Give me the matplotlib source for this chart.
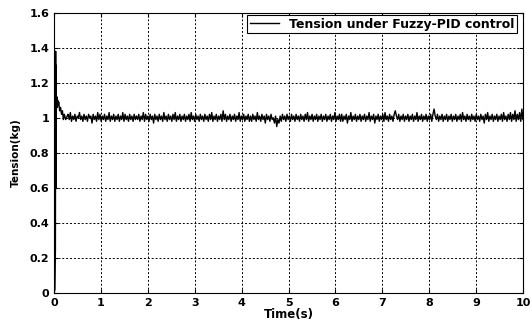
import numpy as np
import matplotlib
matplotlib.use('Agg')
import matplotlib.pyplot as plt
from matplotlib.ticker import FormatStrFormatter

plt.rcParams['font.family'] = ['DejaVu Sans']
plt.rcParams['font.weight'] = 'bold'

# Arranque (lectura aproximada de la figura)
t_start = [0.0, 0.02, 0.03, 0.035, 0.04, 0.045, 0.05, 0.06, 0.07, 0.08, 0.09, 0.10,
           0.12, 0.14, 0.16, 0.18, 0.20, 0.22, 0.25, 0.28]
y_start = [0.0, 0.02, 0.25, 1.38, 0.60, 1.30, 1.05, 1.12, 1.06, 1.10, 1.07, 1.09,
           1.04, 1.06, 1.02, 1.04, 0.99, 1.02, 0.99, 1.01]

# Régimen permanente, 0.3 s .. 10 s
y_steady = [
    1.02, 0.99, 1.03, 0.98, 1.01, 0.99, 1.02, 0.98, 1.01, 1.00, 1.03, 0.99, 1.01, 0.98, 1.02, 0.99, 1.01, 0.98, 1.02, 1.00,
    1.01, 0.97, 1.02, 0.99, 1.01, 0.98, 1.03, 0.99, 1.02, 0.98, 1.01, 0.99, 1.02, 0.98, 1.01, 0.99, 1.03, 0.98, 1.01, 0.99,
    1.02, 0.98, 1.01, 0.99, 1.02, 0.98, 1.01, 0.99, 1.03, 0.98, 1.02, 0.99, 1.01, 0.98, 1.02, 0.99, 1.01, 0.98, 1.02, 0.99,
    1.01, 0.99, 1.02, 0.98, 1.01, 0.99, 1.03, 0.98, 1.02, 0.99, 1.01, 0.98, 1.02, 0.99, 1.01, 0.97, 1.02, 0.99, 1.01, 0.98,
    1.02, 0.99, 1.01, 0.98, 1.03, 0.99, 1.01, 0.98, 1.02, 0.99, 1.01, 0.98, 1.02, 0.99, 1.03, 0.98, 1.01, 0.99, 1.02, 0.98,
    1.01, 0.99, 1.02, 0.98, 1.01, 0.99, 1.02, 0.98, 1.03, 0.99, 1.01, 0.98, 1.02, 0.99, 1.01, 0.98, 1.02, 0.99, 1.01, 0.98,
    1.02, 0.99, 1.01, 0.98, 1.02, 0.99, 1.03, 0.98, 1.01, 0.99, 1.02, 0.98, 1.01, 0.99, 1.02, 0.98, 1.04, 0.99, 1.02, 0.98,
    1.01, 0.99, 1.02, 0.98, 1.01, 0.99, 1.02, 0.98, 1.01, 0.99, 1.03, 0.98, 1.01, 0.99, 1.02, 0.98, 1.01, 0.99, 1.02, 0.98,
    1.01, 0.98, 1.02, 0.99, 1.01, 0.98, 1.03, 0.99, 1.01, 0.98, 1.02, 0.99, 1.01, 0.97, 1.02, 0.99, 1.01, 0.98, 1.02, 0.99,
    1.00, 0.97, 1.01, 0.95, 0.99, 0.97, 1.01, 0.98, 1.02, 0.99, 1.01, 0.98, 1.02, 0.99, 1.01, 0.98, 1.02, 0.99, 1.01, 0.98,
    1.02, 0.99, 1.01, 0.98, 1.02, 0.99, 1.01, 0.98, 1.02, 0.99, 1.03, 0.98, 1.01, 0.99, 1.02, 0.98, 1.01, 0.99, 1.02, 0.98,
    1.01, 0.99, 1.02, 0.98, 1.01, 0.99, 1.02, 0.98, 1.01, 0.99, 1.02, 0.98, 1.01, 0.99, 1.03, 0.98, 1.01, 0.99, 1.02, 0.98,
    1.02, 0.98, 1.01, 0.99, 1.02, 0.97, 1.01, 0.99, 1.03, 0.98, 1.01, 0.99, 1.02, 0.98, 1.01, 0.99, 1.02, 0.98, 1.01, 0.99,
    1.02, 0.98, 1.01, 0.99, 1.03, 0.98, 1.01, 0.99, 1.02, 0.97, 1.01, 0.99, 1.02, 0.98, 1.01, 0.99, 1.02, 0.98, 1.03, 0.99,
    1.01, 0.98, 1.02, 0.99, 1.01, 0.98, 1.02, 1.04, 1.01, 0.99, 1.02, 0.98, 1.01, 0.99, 1.02, 0.98, 1.01, 0.99, 1.02, 0.98,
    1.01, 0.99, 1.02, 0.98, 1.01, 0.99, 1.03, 0.98, 1.01, 0.99, 1.02, 0.98, 1.01, 0.99, 1.02, 0.98, 1.01, 0.99, 1.02, 0.98,
    1.02, 1.05, 1.01, 0.99, 1.02, 0.98, 1.01, 0.99, 1.02, 0.98, 1.01, 0.99, 1.02, 0.98, 1.01, 0.99, 1.02, 0.98, 1.01, 0.99,
    1.02, 0.98, 1.01, 0.99, 1.02, 0.98, 1.03, 0.99, 1.01, 0.98, 1.02, 0.99, 1.01, 0.98, 1.02, 0.99, 1.01, 0.98, 1.02, 0.99,
    1.01, 0.98, 1.02, 0.99, 1.01, 0.97, 1.02, 0.99, 1.03, 0.98, 1.01, 0.99, 1.02, 0.98, 1.01, 0.99, 1.02, 0.98, 1.01, 0.99,
    1.02, 0.98, 1.03, 0.99, 1.01, 0.98, 1.02, 0.99, 1.03, 0.98, 1.02, 0.99, 1.04, 0.98, 1.02, 0.99, 1.03, 0.98, 1.05, 0.99,
]
t_steady = np.linspace(0.3, 10, len(y_steady))

t = np.concatenate([t_start, t_steady])
tension = np.concatenate([y_start, y_steady])

x_ticks = list(range(0, 11))
y_ticks = [0, 0.2, 0.4, 0.6, 0.8, 1, 1.2, 1.4, 1.6]

fig = plt.figure(figsize=(5.32, 3.22), dpi=100)
ax = fig.add_axes([54 / 532, 1 - 293 / 322, 469 / 532, 280.3 / 322])

ax.plot(t, tension, color='black', linewidth=1.0, label='Tension under Fuzzy-PID control')

ax.set_xlim(0, 10)
ax.set_ylim(0, 1.6)
ax.set_xticks(x_ticks)
ax.set_yticks(y_ticks)
ax.yaxis.set_major_formatter(FormatStrFormatter('%g'))
ax.tick_params(direction='in', labelsize=8, length=3, top=True, right=True, pad=3.5)
for lbl in ax.get_xticklabels() + ax.get_yticklabels():
    lbl.set_fontweight('bold')

ax.grid(True, color='black', linestyle=(0, (2, 2)), linewidth=0.7)
for s in ax.spines.values():
    s.set_linewidth(0.8)

ax.set_xlabel('Time(s)', fontsize=8.5, fontweight='bold', labelpad=0)
ax.set_ylabel('Tension(kg)', fontsize=7.5, fontweight='bold', labelpad=6)

leg = ax.legend(loc='upper right', bbox_to_anchor=(1 - 4 / 469, 1), fontsize=9,
                frameon=True, fancybox=False, edgecolor='black', framealpha=1,
                handlelength=2.3, handletextpad=0.8,
                borderpad=0.2, borderaxespad=0.2)
leg.get_frame().set_linewidth(0.8)
for txt in leg.get_texts():
    txt.set_fontweight('bold')

fig.savefig('out.png', dpi=100)
